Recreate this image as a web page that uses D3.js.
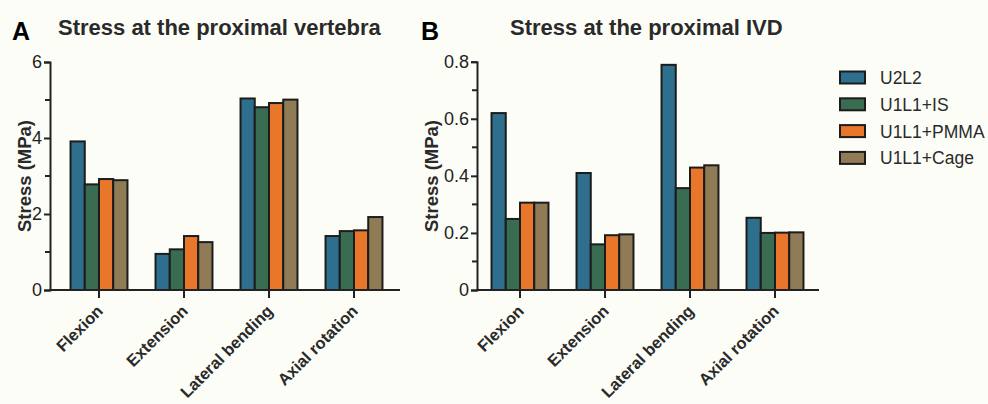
<!DOCTYPE html>
<html><head><meta charset="utf-8">
<script src="https://cdn.jsdelivr.net/npm/d3@7"></script>
<style>
html,body{margin:0;padding:0;background:#fdfdf7;}
svg{display:block;font-family:"Liberation Sans",Arial,Helvetica,sans-serif;}
</style></head>
<body>
<svg id="chart" width="988" height="404"></svg>
<script>
const categories = ["Flexion", "Extension", "Lateral bending", "Axial rotation"];
const seriesNames = ["U2L2", "U1L1+IS", "U1L1+PMMA", "U1L1+Cage"];
const colors = ["#2f6f8e", "#3a6c52", "#e8772b", "#8f7b56"];

// Panel A: stress at the proximal vertebra (MPa), per series, per category
const vertU2L2 = [3.91, 0.95, 5.04, 1.42];
const vertIS   = [2.78, 1.07, 4.81, 1.55];
const vertPMMA = [2.92, 1.42, 4.92, 1.57];
const vertCage = [2.89, 1.26, 5.01, 1.92];

// Panel B: stress at the proximal IVD (MPa)
const ivdU2L2 = [0.620, 0.410, 0.789, 0.253];
const ivdIS   = [0.249, 0.160, 0.357, 0.200];
const ivdPMMA = [0.306, 0.192, 0.429, 0.201];
const ivdCage = [0.306, 0.195, 0.437, 0.202];

const ticksA = [0, 2, 4, 6];
const minorA = [1, 3, 5];
const ticksB = [0, 0.2, 0.4, 0.6, 0.8];
const minorB = [0.1, 0.3, 0.5, 0.7];

const svg = d3.select("#chart");
svg.append("rect").attr("width", 988).attr("height", 404).attr("fill", "#fdfdf7");

function panel(o) {
  const g = svg.append("g");
  const y = d3.scaleLinear().domain(o.domain).range([290, o.yTop]);
  const x0 = d3.scaleBand().domain(categories).range(o.xRange).paddingInner(0.33).paddingOuter(0.165);
  const x1 = d3.scaleBand().domain(seriesNames).range([0, x0.bandwidth()]);
  const data = [o.s1, o.s2, o.s3, o.s4];

  // bars
  categories.forEach((c, ci) => {
    seriesNames.forEach((s, si) => {
      const v = data[si][ci];
      g.append("rect")
        .attr("x", x0(c) + x1(s))
        .attr("y", y(v))
        .attr("width", x1.bandwidth())
        .attr("height", y(0) - y(v))
        .attr("fill", colors[si])
        .attr("stroke", "#1c1c1c")
        .attr("stroke-width", 2);
    });
  });

  // y axis
  const ya = g.append("g").attr("transform", `translate(${o.axisX},0)`)
    .call(d3.axisLeft(y).tickValues(o.ticks).tickSize(6).tickPadding(2).tickFormat(o.fmt));
  ya.select(".domain").attr("stroke", "#222").attr("stroke-width", 2);
  ya.selectAll(".tick line").attr("stroke", "#222").attr("stroke-width", 2);
  ya.selectAll(".tick text").attr("font-size", 18).attr("fill", "#222")
    .attr("font-family", "Liberation Sans, Arial, sans-serif");
  g.selectAll(".minor").data(o.minor).enter().append("line")
    .attr("x1", o.axisX - 5).attr("x2", o.axisX)
    .attr("y1", d => y(d)).attr("y2", d => y(d))
    .attr("stroke", "#222").attr("stroke-width", 2);

  // x axis
  g.append("line").attr("x1", o.axisX - 1).attr("x2", o.xEnd)
    .attr("y1", y(0)).attr("y2", y(0)).attr("stroke", "#222").attr("stroke-width", 2);
  categories.forEach(c => {
    const cx = x0(c) + x0.bandwidth() / 2;
    g.append("line").attr("x1", cx).attr("x2", cx).attr("y1", y(0)).attr("y2", y(0) + 8)
      .attr("stroke", "#222").attr("stroke-width", 2);
    g.append("text")
      .attr("transform", `translate(${cx + 5},${y(0) + 22}) rotate(-45)`)
      .attr("text-anchor", "end")
      .attr("font-size", 16.5).attr("font-weight", "bold").attr("fill", "#2a2a2a")
      .text(c);
  });

  // y title
  g.append("text")
    .attr("transform", `translate(${o.yTitleX},176) rotate(-90)`)
    .attr("text-anchor", "middle")
    .attr("font-size", 18.5).attr("font-weight", "bold").attr("fill", "#2a2a2a")
    .text("Stress (MPa)");

  // panel letter and title
  g.append("text").attr("x", o.letterX).attr("y", 40)
    .attr("font-size", 25).attr("font-weight", "bold").attr("fill", "#000").text(o.letter);
  g.append("text").attr("x", o.titleX).attr("y", 35)
    .attr("font-size", 22).attr("font-weight", "bold").attr("fill", "#2a2a2a").text(o.title);
}

panel({
  domain: [0, 6], yTop: 62, xRange: [56.5, 396.5], axisX: 50, xEnd: 400,
  ticks: ticksA, minor: minorA, fmt: d3.format("d"),
  s1: vertU2L2, s2: vertIS, s3: vertPMMA, s4: vertCage,
  yTitleX: 31, letter: "A", letterX: 12, title: "Stress at the proximal vertebra", titleX: 58
});

panel({
  domain: [0, 0.8], yTop: 61.7, xRange: [477.5, 817.5], axisX: 477, xEnd: 819,
  ticks: ticksB, minor: minorB, fmt: d => d === 0 ? "0" : d3.format(".1f")(d),
  s1: ivdU2L2, s2: ivdIS, s3: ivdPMMA, s4: ivdCage,
  yTitleX: 438, letter: "B", letterX: 421, title: "Stress at the proximal IVD", titleX: 510
});

// legend
const leg = svg.append("g");
seriesNames.forEach((s, i) => {
  const cy = 77.5 + i * 26.8;
  leg.append("rect").attr("x", 840).attr("y", cy - 6).attr("width", 25).attr("height", 12)
    .attr("fill", colors[i]).attr("stroke", "#1c1c1c").attr("stroke-width", 2);
  leg.append("text").attr("x", 880).attr("y", cy + 6.5)
    .attr("font-size", 17.5).attr("fill", "#2a2a2a").text(s);
});
</script>
</body></html>
